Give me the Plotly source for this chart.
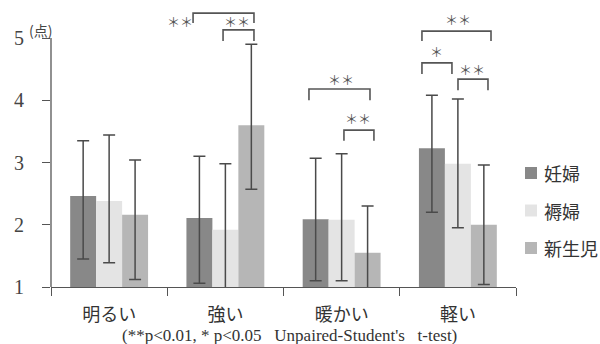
import plotly.graph_objects as go

categories = ["明るい", "強い", "暖かい", "軽い"]
series_names = ["妊婦", "褥婦", "新生児"]
colors = ["#888888", "#e4e4e4", "#b6b6b6"]

# means
mean_ninpu = [2.46, 2.11, 2.09, 3.23]
mean_jokufu = [2.38, 1.92, 2.08, 2.98]
mean_shinseiji = [2.16, 3.60, 1.55, 2.00]
# error bar ends (upper / lower)
hi_ninpu = [3.35, 3.10, 3.07, 4.08]
lo_ninpu = [1.45, 1.06, 1.10, 2.20]
hi_jokufu = [3.44, 2.98, 3.14, 4.02]
lo_jokufu = [1.39, 0.86, 1.10, 1.95]
hi_shinseiji = [3.04, 4.90, 2.30, 2.96]
lo_shinseiji = [1.12, 2.57, 0.80, 1.04]

means = [mean_ninpu, mean_jokufu, mean_shinseiji]
his = [hi_ninpu, hi_jokufu, hi_shinseiji]
los = [lo_ninpu, lo_jokufu, lo_shinseiji]

# significance brackets: (x_left, x_right, y_top, y_end, label, label_x, label_y)
brackets = [
    (0.722, 1.246, 5.40, 5.24, "＊＊", 0.61, 5.27),
    (0.980, 1.246, 5.13, 4.95, "＊＊", 1.10, 5.27),
    (1.719, 2.244, 4.18, 4.00, "＊＊", 1.995, 4.34),
    (2.020, 2.278, 3.52, 3.35, "＊＊", 2.141, 3.71),
    (2.691, 3.285, 5.11, 4.95, "＊＊", 3.001, 5.30),
    (2.691, 2.949, 4.60, 4.42, "＊", 2.812, 4.79),
    (3.001, 3.259, 4.34, 4.16, "＊＊", 3.122, 4.50),
]

YMIN, YMAX = 1, 5.45
L, R, T, B, W, H = 51, 84, 10, 57, 600, 344
PW, PH = W - L - R, H - T - B
serif = "Liberation Serif, DejaVu Serif, Noto Sans CJK JP"
cjk = "Noto Sans CJK JP, Liberation Serif"
line_col = "#555555"


def px(xp):
    return (xp - L) / PW


def py(yp):
    return (H - B - yp) / PH


fig = go.Figure()
for i, name in enumerate(series_names):
    up = [h - m for h, m in zip(his[i], means[i])]
    dn = [m - l for m, l in zip(means[i], los[i])]
    fig.add_trace(go.Bar(
        x=categories, y=[m - YMIN for m in means[i]], base=YMIN, name=name,
        marker=dict(color=colors[i], line=dict(width=0)),
        error_y=dict(type="data", symmetric=False, array=up, arrayminus=dn,
                     color="#4a4a4a", thickness=1.5, width=6),
        showlegend=False,
    ))

for (x0, x1, yt, ye, lab, lx, ly) in brackets:
    fig.add_shape(type="path",
                  path=f"M {x0},{ye} L {x0},{yt} L {x1},{yt} L {x1},{ye}",
                  xref="x", yref="y", line=dict(color=line_col, width=1.6))
    fig.add_annotation(x=lx, y=ly, xref="x", yref="y", text=lab, showarrow=False,
                       font=dict(family=cjk, size=13, color="#555555"))

# manual legend
for i, name in enumerate(series_names):
    cy = 173 + i * 37.5
    fig.add_shape(type="rect", xref="paper", yref="paper",
                  x0=px(525), x1=px(537), y0=py(cy + 6), y1=py(cy - 6),
                  fillcolor=colors[i], line=dict(width=0))
    fig.add_annotation(x=px(542), y=py(cy), xref="paper", yref="paper", text=name,
                       showarrow=False, xanchor="left", yanchor="middle",
                       font=dict(family=cjk, size=18, color="#333333"))

# y axis line from 1 to 5
fig.add_shape(type="line", xref="paper", yref="paper", x0=0, x1=0, y0=0,
              y1=(5 - YMIN) / (YMAX - YMIN), line=dict(color=line_col, width=1.3))

fig.add_annotation(x=px(40), y=py(30), xref="paper", yref="paper",
                   text="(点)", showarrow=False, xanchor="center", yanchor="middle",
                   font=dict(family=cjk, size=14, color="#444444"))
fig.add_annotation(x=px(289), y=py(335), xref="paper", yref="paper",
                   text="(**p<0.01, * p<0.05   Unpaired-Student's   t-test)",
                   showarrow=False, yanchor="middle",
                   font=dict(family=serif, size=17, color="#333333"))

fig.update_layout(
    width=W, height=H,
    margin=dict(l=L, r=R, t=T, b=B),
    paper_bgcolor="white", plot_bgcolor="white",
    barmode="group", bargap=0.33, bargroupgap=0,
    showlegend=False,
    xaxis=dict(type="category", range=[-0.5, 3.5], showline=True, linecolor=line_col,
               linewidth=1.3, ticks="outside", tickson="boundaries", ticklen=8,
               tickcolor=line_col, showgrid=False, ticklabelstandoff=11,
               tickfont=dict(family=cjk, size=18, color="#333333")),
    yaxis=dict(range=[YMIN, YMAX], tickvals=[1, 2, 3, 4, 5], showline=False,
               ticks="outside", ticklen=8, tickcolor=line_col, showgrid=False,
               zeroline=False, ticklabelstandoff=14,
               tickfont=dict(family=serif, size=20, color="#444444")),
)

fig.write_html("out.html")
